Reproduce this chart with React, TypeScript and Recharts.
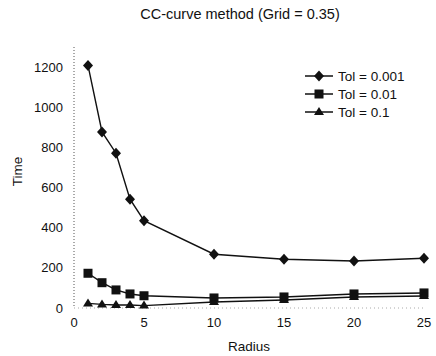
import React from "react";
import {
  LineChart,
  Line,
  XAxis,
  YAxis,
  Label,
  Customized,
} from "recharts";

// Radius values on the x axis
const radius = [1, 2, 3, 4, 5, 10, 15, 20, 25];
// Run time for each tolerance
const tol001 = [1208, 877, 771, 542, 435, 268, 243, 234, 248];
const tol01 = [173, 126, 90, 70, 61, 50, 55, 70, 75];
const tol1 = [23, 18, 15, 15, 12, 30, 40, 55, 60];

const xTicks = [0, 5, 10, 15, 20, 25];
const yTicks = [0, 200, 400, 600, 800, 1000, 1200];

const seriesNames = ["Tol = 0.001", "Tol = 0.01", "Tol = 0.1"];

const rows = radius.map((r, i) => ({
  radius: r,
  a: tol001[i],
  b: tol01[i],
  c: tol1[i],
}));

const FONT = "'Liberation Sans', Arial, Helvetica, sans-serif";
const INK = "#111";

type Shape = "diamond" | "square" | "triangle";

const marker = (shape: Shape, cx: number, cy: number, key?: React.Key) => {
  if (shape === "diamond") {
    return (
      <polygon
        key={key}
        points={`${cx},${cy - 5.5} ${cx + 5},${cy} ${cx},${cy + 5.5} ${cx - 5},${cy}`}
        fill={INK}
      />
    );
  }
  if (shape === "square") {
    return <rect key={key} x={cx - 4.5} y={cy - 4.5} width={9} height={9} fill={INK} />;
  }
  return (
    <polygon
      key={key}
      points={`${cx},${cy - 5} ${cx + 5},${cy + 3} ${cx - 5},${cy + 3}`}
      fill={INK}
    />
  );
};

const dotOf = (shape: Shape) => (props: any) => {
  const { cx, cy, index } = props;
  if (cx == null || cy == null) return <g key={index} />;
  return marker(shape, cx, cy, index);
};

const shapes: Shape[] = ["diamond", "square", "triangle"];

// Legend drawn inside the plot's upper-right corner
const LegendBox = () => (
  <g transform="translate(300,65)">
    {seriesNames.map((name, i) => {
      const y = 11 + i * 18;
      return (
        <g key={name}>
          <line x1={5} x2={33} y1={y} y2={y} stroke={INK} strokeWidth={1.5} />
          {marker(shapes[i], 19, y)}
          <text
            x={38}
            y={y}
            dy="0.35em"
            fontFamily={FONT}
            fontSize={13.5}
            fill={INK}
          >
            {name}
          </text>
        </g>
      );
    })}
  </g>
);

const Title = () => (
  <text
    x={240}
    y={14}
    dy="0.35em"
    textAnchor="middle"
    fontFamily={FONT}
    fontSize={14.5}
    fill={INK}
  >
    CC-curve method (Grid = 0.35)
  </text>
);

export default function App() {
  return (
    <div style={{ position: "absolute", left: 0, top: 0, background: "#fff" }}>
      <LineChart
        width={436}
        height={356}
        data={rows}
        margin={{ top: 47, right: 12, bottom: 18, left: 0 }}
      >
        <Customized component={Title} />
        <XAxis
          dataKey="radius"
          type="number"
          domain={[0, 25]}
          ticks={xTicks}
          height={30}
          tickLine={false}
          tickSize={0}
          tickMargin={10}
          axisLine={{ stroke: "#aaa", strokeDasharray: "1 3" }}
          tick={{ fontFamily: FONT, fontSize: 13, fill: INK }}
        >
          <Label
            value="Radius"
            position="bottom"
            offset={3}
            style={{ fontFamily: FONT, fontSize: 13.5, fill: INK }}
          />
        </XAxis>
        <YAxis
          type="number"
          domain={[0, 1300]}
          ticks={yTicks}
          width={74}
          tickLine={false}
          tickSize={0}
          tickMargin={11}
          axisLine={{ stroke: "#555", strokeDasharray: "1 2" }}
          tick={{ fontFamily: FONT, fontSize: 13, fill: INK }}
        >
          <Label
            value="Time"
            angle={-90}
            position="insideLeft"
            offset={17}
            dy={-6}
            style={{ fontFamily: FONT, fontSize: 13.5, fill: INK, textAnchor: "middle" }}
          />
        </YAxis>
        <Customized component={LegendBox} />
        <Line
          dataKey="a"
          name={seriesNames[0]}
          stroke={INK}
          strokeWidth={1.4}
          dot={dotOf("diamond")}
          isAnimationActive={false}
        />
        <Line
          dataKey="b"
          name={seriesNames[1]}
          stroke={INK}
          strokeWidth={1.4}
          dot={dotOf("square")}
          isAnimationActive={false}
        />
        <Line
          dataKey="c"
          name={seriesNames[2]}
          stroke={INK}
          strokeWidth={1.4}
          dot={dotOf("triangle")}
          isAnimationActive={false}
        />
      </LineChart>
    </div>
  );
}
